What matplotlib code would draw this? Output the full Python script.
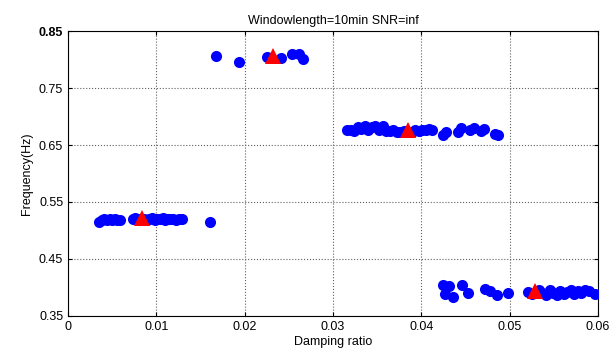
import matplotlib.pyplot as plt

# identified modes (damping ratio, frequency)
damp_a = [0.0035, 0.0038, 0.0041, 0.0044, 0.0047, 0.0050, 0.0053, 0.0056, 0.0059,
          0.0073, 0.0076, 0.0079, 0.0086, 0.0089, 0.0092, 0.0095, 0.0098, 0.0101,
          0.0104, 0.0107, 0.0110, 0.0113, 0.0116, 0.0119, 0.0122, 0.0126, 0.0129, 0.0161]
freq_a = [0.515, 0.519, 0.520, 0.518, 0.521, 0.519, 0.520, 0.518, 0.519,
          0.521, 0.522, 0.520, 0.521, 0.519, 0.520, 0.522, 0.519, 0.521,
          0.520, 0.522, 0.519, 0.521, 0.520, 0.521, 0.519, 0.520, 0.521, 0.514]

damp_b = [0.0168, 0.0194, 0.0225, 0.0241, 0.0254, 0.0262, 0.0266]
freq_b = [0.806, 0.796, 0.804, 0.803, 0.810, 0.810, 0.801]

damp_c = [0.0316, 0.0320, 0.0324, 0.0328, 0.0332, 0.0336, 0.0340, 0.0344, 0.0348,
          0.0352, 0.0356, 0.0360, 0.0364, 0.0368, 0.0372, 0.0376, 0.0380, 0.0389,
          0.0393, 0.0397, 0.0401, 0.0405, 0.0409, 0.0412,
          0.0425, 0.0428, 0.0441, 0.0445, 0.0455, 0.0460, 0.0467, 0.0471, 0.0483, 0.0487]
freq_c = [0.676, 0.677, 0.675, 0.682, 0.678, 0.684, 0.676, 0.681, 0.684,
          0.677, 0.683, 0.675, 0.674, 0.676, 0.673, 0.673, 0.674, 0.672,
          0.676, 0.675, 0.677, 0.676, 0.678, 0.677,
          0.667, 0.672, 0.673, 0.679, 0.676, 0.680, 0.674, 0.678, 0.669, 0.668]

damp_d = [0.0425, 0.0431, 0.0427, 0.0436, 0.0446, 0.0453, 0.0472, 0.0478, 0.0486, 0.0498,
          0.0521, 0.0525, 0.0533, 0.0537, 0.0541, 0.0545, 0.0549, 0.0553, 0.0557,
          0.0561, 0.0565, 0.0569, 0.0573, 0.0577, 0.0581, 0.0585, 0.0590, 0.0597]
freq_d = [0.404, 0.403, 0.389, 0.383, 0.404, 0.390, 0.397, 0.393, 0.387, 0.390,
          0.392, 0.388, 0.395, 0.391, 0.387, 0.396, 0.390, 0.386, 0.394,
          0.389, 0.392, 0.396, 0.388, 0.393, 0.390, 0.395, 0.394, 0.388]

# mean values
mean_damp = [0.0084, 0.0232, 0.0385, 0.0529]
mean_freq = [0.522, 0.806, 0.676, 0.394]

plt.rcParams['font.family'] = ['Liberation Sans', 'DejaVu Sans']

fig = plt.figure(figsize=(6.1, 3.53), dpi=100)
ax = fig.add_axes([0.1115, 0.105, 0.869, 0.807])

for dx, fy in [(damp_a, freq_a), (damp_b, freq_b), (damp_c, freq_c), (damp_d, freq_d)]:
    ax.plot(dx, fy, 'o', color='#0000ff', markersize=8, markeredgewidth=0, zorder=3)
ax.plot(mean_damp, mean_freq, '^', color='#ff0000', markersize=11, markeredgewidth=0, zorder=4)

ax.set_xlim(0, 0.06)
ax.set_ylim(0.35, 0.85)
ax.set_xticks([0, 0.01, 0.02, 0.03, 0.04, 0.05, 0.06])
ax.set_xticklabels(['0', '0.01', '0.02', '0.03', '0.04', '0.05', '0.06'])
ax.set_yticks([0.35, 0.45, 0.55, 0.65, 0.75, 0.85])
ax.grid(True, linestyle=':', color='#606060', linewidth=0.8)
ax.tick_params(direction='in', top=True, right=True, labelsize=9, length=3)
ax.get_yticklabels()[-1].set_fontweight('bold')

ax.set_title('Windowlength=10min SNR=inf', fontsize=9, pad=5)
ax.set_xlabel('Damping ratio', fontsize=9, labelpad=2)
ax.set_ylabel('Frequency(Hz)', fontsize=9, labelpad=4)

plt.savefig('out.png', dpi=100)
